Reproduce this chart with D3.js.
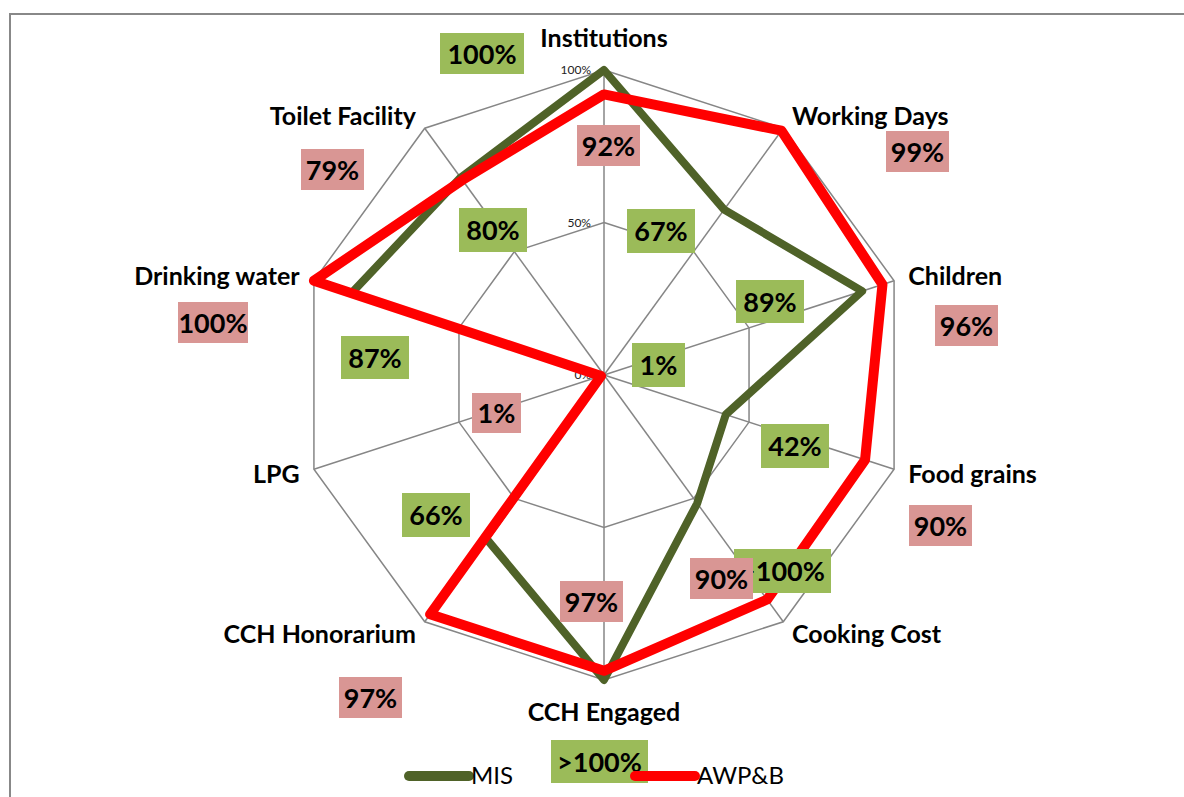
<!DOCTYPE html>
<html>
<head>
<meta charset="utf-8">
<script src="https://cdn.jsdelivr.net/npm/d3@7"></script>
<style>
  body { margin: 0; background: #fff; }
  svg { display: block; font-family: Lato, "Open Sans", sans-serif; }
</style>
</head>
<body>
<svg id="chart" width="1184" height="797"></svg>
<script>
// data
const categories = ['Institutions', 'Working Days', 'Children', 'Food grains', 'Cooking Cost',
  'CCH Engaged', 'CCH Honorarium', 'LPG', 'Drinking water', 'Toilet Facility'];
const misValues = [1.00, 0.67, 0.89, 0.42, 0.52, 1.00, 0.66, 0.01, 0.87, 0.80];
const awpbValues = [0.92, 0.99, 0.96, 0.90, 0.91, 0.97, 0.97, 0.01, 1.00, 0.79];
const misLabels = ['100%', '67%', '89%', '42%', '>100%', '>100%', '66%', '1%', '87%', '80%'];
const awpbLabels = ['92%', '99%', '96%', '90%', '90%', '97%', '97%', '1%', '100%', '79%'];
const tickValues = [0, 0.5, 1];
const tickLabels = ['0%', '50%', '100%'];
const seriesNames = ['MIS', 'AWP&B'];

// hand placed text boxes (left, top, right, bottom), same order as categories
const misBoxes = [[440, 33, 524, 74], [627, 209, 695, 253], [736, 280, 804, 323], [761, 424, 829, 468],
  [734, 549, 831, 593], [551, 740, 648, 783], [402, 493, 470, 537], [632, 343, 685, 387],
  [341, 336, 409, 379], [459, 208, 527, 252]];
const awpbBoxes = [[577, 125, 640, 166], [886, 131, 949, 172], [935, 305, 998, 346], [909, 505, 972, 546],
  [690, 558, 753, 599], [560, 581, 623, 622], [339, 677, 402, 718], [472, 393, 521, 433],
  [178, 302, 248, 343], [301, 149, 364, 190]];

const colors = { mis: '#4F6228', awpb: '#FF0000', misBox: '#9BBB59', awpbBox: '#D99694', grid: '#868686' };

const svg = d3.select('#chart');
const cx = 604, cy = 375;
const r = d3.scaleLinear().domain([0, 1]).range([0, 305]);
const angle = i => i * 2 * Math.PI / categories.length;
const pt = (i, v) => [cx + r(v) * Math.sin(angle(i)), cy - r(v) * Math.cos(angle(i))];

// outer frame (runs off the right and bottom edge)
svg.append('path')
  .attr('d', 'M10,800 L10,14 L1190,14')
  .attr('fill', 'none')
  .attr('stroke', '#888')
  .attr('stroke-width', 2);

const g = svg.append('g');

// rings
tickValues.filter(t => t > 0).forEach(t => {
  g.append('path')
    .attr('d', d3.line()(categories.map((c, i) => pt(i, t))) + 'Z')
    .attr('fill', 'none')
    .attr('stroke', colors.grid)
    .attr('stroke-width', 1.5);
});

// spokes
g.selectAll('.spoke')
  .data(categories)
  .enter()
  .append('line')
  .attr('x1', cx).attr('y1', cy)
  .attr('x2', (d, i) => pt(i, 1)[0])
  .attr('y2', (d, i) => pt(i, 1)[1])
  .attr('stroke', colors.grid)
  .attr('stroke-width', 1.5);

// tick labels on the vertical axis
g.selectAll('.tick')
  .data(tickValues)
  .enter()
  .append('text')
  .attr('x', cx - 13)
  .attr('y', d => cy - r(d) + 4)
  .attr('text-anchor', 'end')
  .style('font-size', '12px')
  .style('fill', '#222')
  .text((d, i) => tickLabels[i]);

// series
const radial = d3.lineRadial()
  .angle((d, i) => angle(i))
  .radius(d => r(d))
  .curve(d3.curveLinearClosed);

g.append('path')
  .attr('transform', `translate(${cx},${cy})`)
  .attr('d', radial(misValues))
  .attr('fill', 'none')
  .attr('stroke', colors.mis)
  .attr('stroke-width', 8)
  .attr('stroke-linejoin', 'round');

g.append('path')
  .attr('transform', `translate(${cx},${cy})`)
  .attr('d', radial(awpbValues))
  .attr('fill', 'none')
  .attr('stroke', colors.awpb)
  .attr('stroke-width', 10)
  .attr('stroke-linejoin', 'round');

// category labels outside the vertices
g.selectAll('.cat')
  .data(categories)
  .enter()
  .append('text')
  .attr('x', (d, i) => pt(i, 1)[0] + 15 * Math.sin(angle(i)))
  .attr('y', (d, i) => {
    const s = Math.sin(angle(i)), c = Math.cos(angle(i));
    const mid = pt(i, 1)[1] - 15 * c - (Math.abs(s) < 0.1 ? 17 * c : 0);
    return mid + 9;
  })
  .attr('text-anchor', (d, i) => {
    const s = Math.sin(angle(i));
    return Math.abs(s) < 0.1 ? 'middle' : (s > 0 ? 'start' : 'end');
  })
  .style('font-size', '25px')
  .style('font-weight', 'bold')
  .style('fill', '#000')
  .text(d => d);

// value boxes
function drawBoxes(boxes, labels, fill) {
  const b = g.selectAll(null)
    .data(boxes)
    .enter()
    .append('g');
  b.append('rect')
    .attr('x', d => d[0])
    .attr('y', d => d[1])
    .attr('width', d => d[2] - d[0])
    .attr('height', d => d[3] - d[1])
    .attr('fill', fill);
  b.append('text')
    .attr('x', d => (d[0] + d[2]) / 2)
    .attr('y', d => (d[1] + d[3]) / 2 + 10)
    .attr('text-anchor', 'middle')
    .style('font-size', '27px')
    .style('font-weight', 'bold')
    .style('fill', '#000')
    .text((d, i) => labels[i]);
}
drawBoxes(misBoxes, misLabels, colors.misBox);
drawBoxes(awpbBoxes, awpbLabels, colors.awpbBox);

// legend
const legend = svg.append('g');
[[409, colors.mis], [635, colors.awpb]].forEach((d, i) => {
  legend.append('line')
    .attr('x1', d[0]).attr('x2', d[0] + 60)
    .attr('y1', 776).attr('y2', 776)
    .attr('stroke', d[1])
    .attr('stroke-width', 10)
    .attr('stroke-linecap', 'round');
  legend.append('text')
    .attr('x', d[0] + 62)
    .attr('y', 784)
    .style('font-size', '24px')
    .style('fill', '#000')
    .text(seriesNames[i]);
});
</script>
</body>
</html>
